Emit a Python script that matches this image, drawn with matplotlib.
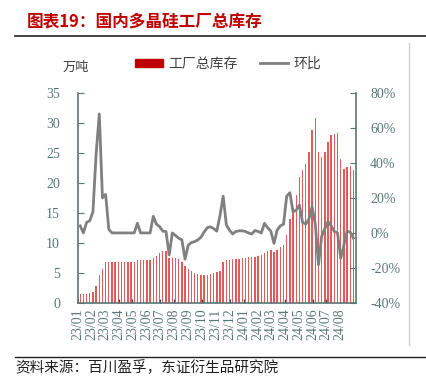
import pandas as pd
import numpy as np
import matplotlib.pyplot as plt
from matplotlib.lines import Line2D
from matplotlib.patches import Patch
from matplotlib.ticker import FuncFormatter, MultipleLocator

# 周度数据：2023/01/06 起
weeks = pd.date_range("2023-01-06", periods=87, freq="7D")

# 工厂总库存（万吨）
stock = [
    1.4, 1.4, 1.5, 1.6, 1.8, 2.8, 4.7, 5.7, 6.8, 6.8,
    6.8, 6.8, 6.8, 6.8, 6.8, 6.8, 6.8, 6.8, 7.2, 7.2,
    7.2, 7.1, 7.2, 7.5, 7.9, 8.4, 8.6, 8.6, 7.5, 7.5,
    7.5, 7.3, 6.8, 6.2, 5.7, 5.3, 5.0, 4.8, 4.7, 4.7,
    4.7, 4.8, 5.0, 5.1, 5.4, 6.8, 7.1, 7.2, 7.3, 7.3,
    7.4, 7.5, 7.5, 7.6, 7.6, 7.7, 7.8, 8.0, 8.4, 8.7,
    8.8, 8.5, 8.8, 9.3, 9.7, 11.3, 14.0, 15.8, 18.0, 21.0,
    22.1, 23.2, 25.1, 28.9, 30.8, 25.1, 24.4, 25.1, 26.8, 28.0,
    28.2, 28.3, 24.0, 22.4, 22.7, 22.8, 22.1,
]

# 环比（%）
mom = [
    4, 0, 6, 7, 12, 45, 68, 20, 22, 2,
    0, 0, 0, 0, 0, 0, 0, 0, 5.5, 0,
    0, 0, 0, 9.5, 5, 3.6, 1, 0.8, -12.6, 0,
    -1.5, -3, -4, -15, -7, -5.5, -5, -4, -2.5, 0.5,
    3, 3.5, 2.5, 1, 10, 21, 4.6, 1.5, -0.6, 0.8,
    1.2, 1.2, 0.8, 0, -0.6, 1.4, 0.8, 0, 5.5, 3,
    1, -6, 1.7, 4, 5, 21, 23, 12, 13, 16,
    6, 5, 8, 15, 5, -18.3, -2, 2.5, 6.5, 4,
    0.8, 0, -14.5, -7, 1, 0.5, -3,
]

month_ticks = pd.date_range("2023-01-01", "2024-08-01", freq="MS")

red = "#c00000"
axis_c = "#5b7676"
cjk = ["Noto Sans CJK SC", "DejaVu Sans"]
serif = "Liberation Serif"

fig = plt.figure(figsize=(4.26, 3.81), dpi=100)
ax = fig.add_axes([0.183, 0.205, 0.653, 0.551])
ax2 = ax.twinx()

ax.bar(weeks, stock, width=3, color="#e25a5a", linewidth=0, zorder=2)
ax2.plot(weeks, np.array(mom) / 100, color="#808080", lw=2.0, zorder=3)

ax.set_xlim(pd.Timestamp("2023-01-01"), pd.Timestamp("2024-09-05"))
ax.set_ylim(0, 35)
ax.yaxis.set_major_locator(MultipleLocator(5))
ax2.set_ylim(-0.4, 0.8)
ax2.yaxis.set_major_locator(MultipleLocator(0.2))
ax2.yaxis.set_major_formatter(FuncFormatter(lambda v, p: f"{v*100:.0f}%"))

ax.set_xticks(month_ticks)
ax.set_xticklabels([d.strftime("%y/%m") for d in month_ticks], rotation=90)

for a in (ax, ax2):
    for s in a.spines.values():
        s.set_visible(False)
ax.spines["left"].set_visible(True)
ax.spines["bottom"].set_visible(True)
ax2.spines["right"].set_visible(True)
for s in (ax.spines["left"], ax.spines["bottom"], ax2.spines["right"]):
    s.set_color(axis_c)
    s.set_linewidth(1.2)

ax.tick_params(axis="y", direction="in", length=4, color=axis_c, labelcolor=axis_c, pad=13)
ax.tick_params(axis="x", direction="in", length=3, color="#404040", labelcolor=axis_c, pad=4)
ax2.tick_params(axis="y", direction="in", length=4, color=axis_c, labelcolor=axis_c, pad=10)
for lab in ax.get_yticklabels() + ax.get_xticklabels() + ax2.get_yticklabels():
    lab.set_family(serif)
    lab.set_fontsize(10)

# 单位
fig.text(0.146, 0.822, "万吨", family=cjk, fontsize=9.5, color="#404040", ha="left", va="center")

# 图例
handles = [Patch(color=red), Line2D([0], [0], color="#808080", lw=2.0)]
fig.legend(handles, ["工厂总库存", "环比"], loc="center", bbox_to_anchor=(0.535, 0.832),
           ncol=2, frameon=False, prop={"family": cjk, "size": 10}, handlelength=2.0,
           handleheight=0.55, columnspacing=1.6, handletextpad=0.4, labelcolor="#404040")

# 标题与来源
fig.text(0.063, 0.94, "图表19：国内多晶硅工厂总库存", family=cjk, fontsize=12,
         fontweight="bold", color=red, ha="left", va="center")
fig.add_artist(Line2D([0.035, 1.0], [0.905, 0.905], color="#202020", lw=1.2))
fig.add_artist(Line2D([0.035, 1.0], [0.063, 0.063], color="#202020", lw=1.0))
fig.add_artist(Line2D([0.96, 0.96], [0.095, 0.887], color="#d0d0d0", lw=1.0))
fig.text(0.035, 0.034, "资料来源：百川盈孚，东证衍生品研究院", family=cjk, fontsize=10.5,
         color="#202020", ha="left", va="center")

fig.savefig("out.png", dpi=100)
